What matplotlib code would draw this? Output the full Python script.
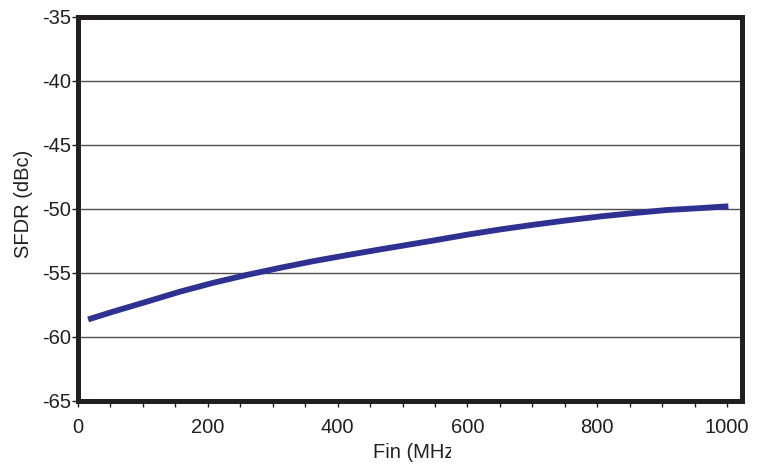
import numpy as np
import matplotlib.pyplot as plt
from matplotlib.ticker import MultipleLocator
from matplotlib.transforms import Bbox, TransformedBbox

# SFDR vs input frequency
fin_mhz = [15.6, 54, 106, 157, 208, 260, 311, 362, 414, 465, 509,
           548, 599, 650, 702, 753, 805, 856, 907, 959, 1002]
sfdr_dbc = [-58.63, -58.02, -57.24, -56.46, -55.77, -55.15, -54.60, -54.08,
            -53.61, -53.16, -52.79, -52.46, -52.01, -51.60, -51.23, -50.89,
            -50.58, -50.32, -50.08, -49.93, -49.79]

y_ticks = [-65, -60, -55, -50, -45, -40, -35]
x_ticks = [0, 200, 400, 600, 800, 1000]

plt.rcParams['font.family'] = ['Liberation Sans', 'DejaVu Sans']
plt.rcParams['axes.unicode_minus'] = False

fig = plt.figure(figsize=(7.6, 4.68), dpi=100)
ax = fig.add_axes([78 / 760, 1 - 401 / 468, (742 - 78) / 760, (401 - 17) / 468])

ax.plot(fin_mhz, sfdr_dbc, color='#2e3192', linewidth=4.2,
        solid_capstyle='butt', solid_joinstyle='round', zorder=3)

ax.set_xlim(0, 1023)
ax.set_ylim(-65, -35)
ax.set_xticks(x_ticks)
ax.set_yticks(y_ticks)
ax.xaxis.set_minor_locator(MultipleLocator(50))

# horizontal grid only
for yv in y_ticks[1:-1]:
    ax.axhline(yv, color='#4d4d4d', linewidth=1.0, zorder=1)

for s in ax.spines.values():
    s.set_linewidth(3.6)
    s.set_color('#231f20')

ax.tick_params(axis='both', which='both', direction='out', length=4, width=1,
               color='#231f20', labelsize=14.5, labelcolor='#231f20')
ax.tick_params(axis='x', pad=8.5)
ax.tick_params(axis='y', pad=1)

fig.text(23.5 / 760, 1 - 204 / 468, 'SFDR (dBc)', fontsize=14.5, color='#231f20',
         rotation=90, ha='center', va='center')

# x label is cut off in the reference, clip it the same way
xl = fig.text(373 / 760, 1 - 458 / 468, 'Fin (MHz)', fontsize=14.5, color='#231f20',
              ha='left', va='baseline')
xl.set_clip_on(True)
xl.set_clip_box(TransformedBbox(Bbox.from_extents(0.01, 0.01, 451 / 760, 0.99), fig.transFigure))

fig.savefig('out.png', dpi=100)
